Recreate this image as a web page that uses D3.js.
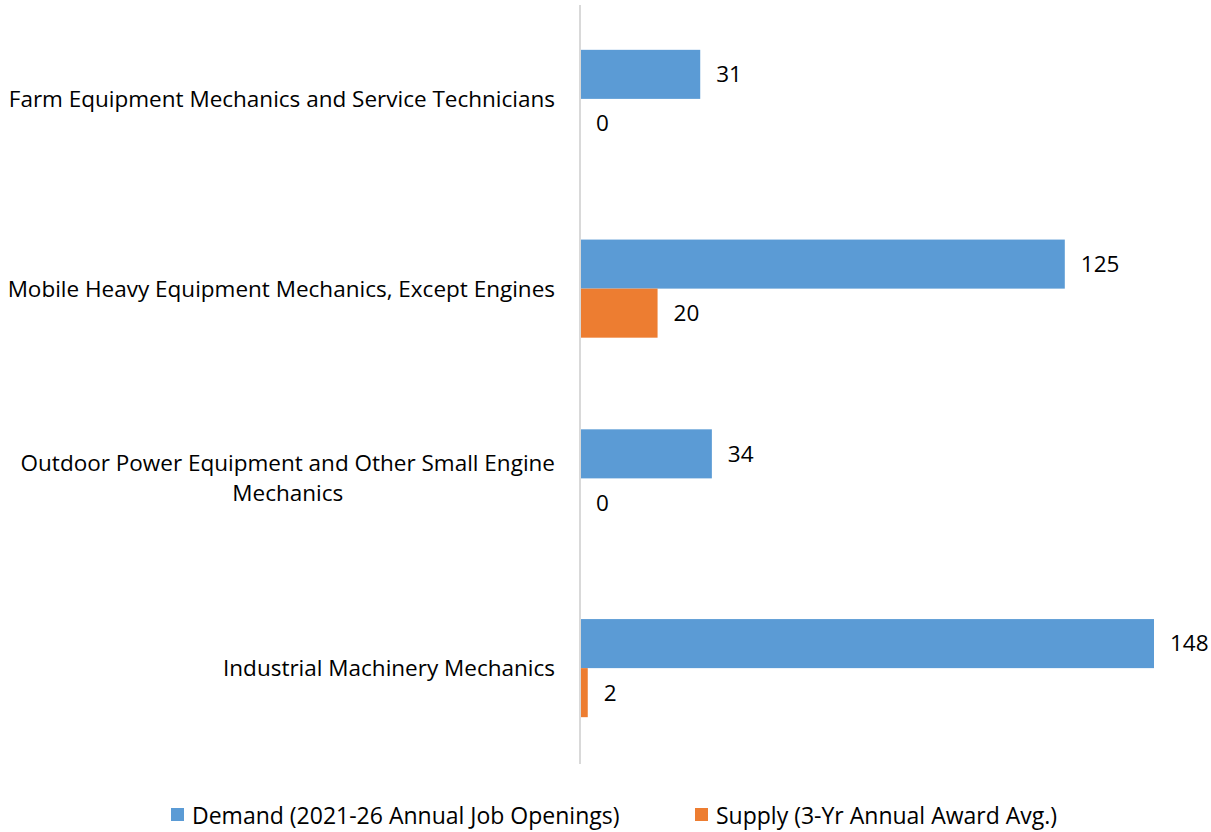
<!DOCTYPE html>
<html lang="en">
<head>
    <meta charset="UTF-8">
    <title>Demand vs Supply</title>
    <script src="https://d3js.org/d3.v7.min.js"></script>
    <style>
        body { margin: 0; background: #fff; }
        svg { display: block; font-family: "Open Sans", "Noto Sans", sans-serif; }
    </style>
</head>
<body>
<script>
    // data
    let categories = [
        'Farm Equipment Mechanics and Service Technicians',
        'Mobile Heavy Equipment Mechanics, Except Engines',
        'Outdoor Power Equipment and Other Small Engine|Mechanics',
        'Industrial Machinery Mechanics'
    ];
    let seriesNames = ['Demand (2021-26 Annual Job Openings)', 'Supply (3-Yr Annual Award Avg.)'];
    let demand = [31, 125, 34, 148];
    let supply = [0, 20, 0, 2];
    let colors = ['#5b9bd5', '#ed7d31'];

    let width = 1211, height = 832;
    let x0 = 580;
    let fs = 22.5;

    let svg = d3.select('body').append('svg')
        .attr('width', width)
        .attr('height', height);

    let rows = categories.map((c, i) => ({ cat: c, values: [demand[i], supply[i]] }));

    // scales
    let x = d3.scaleLinear().domain([0, 148]).range([x0, 1154]);
    let y = d3.scaleBand().domain(categories).range([4, 763])
        .paddingInner(0.483).paddingOuter(0.2415);
    let ySub = d3.scaleBand().domain([0, 1]).range([0, y.bandwidth()]);

    let g = svg.selectAll('g.cat')
        .data(rows)
        .enter()
        .append('g')
        .attr('class', 'cat')
        .attr('transform', d => `translate(0, ${y(d.cat)})`);

    g.selectAll('rect')
        .data(d => d.values)
        .enter()
        .append('rect')
        .attr('x', x(0))
        .attr('y', (d, i) => ySub(i))
        .attr('width', d => x(d) - x(0))
        .attr('height', ySub.bandwidth())
        .attr('fill', (d, i) => colors[i]);

    g.selectAll('text.val')
        .data(d => d.values)
        .enter()
        .append('text')
        .attr('class', 'val')
        .attr('x', d => x(d) + 16)
        .attr('y', (d, i) => ySub(i) + ySub.bandwidth() / 2)
        .attr('dy', '0.35em')
        .attr('font-size', fs)
        .attr('fill', '#000')
        .text(d => d);

    // vertical axis line
    svg.append('line')
        .attr('x1', x0).attr('x2', x0)
        .attr('y1', 5).attr('y2', 764)
        .attr('stroke', '#d9d9d9')
        .attr('stroke-width', 2);

    // category labels (wrapped label centred as a block)
    let labelRight = 555;
    rows.forEach(r => {
        let lines = r.cat.split('|');
        let cy = y(r.cat) + y.bandwidth() / 2;
        let t = svg.append('text')
            .attr('font-size', fs)
            .attr('fill', '#000');
        lines.forEach((ln, k) => {
            t.append('tspan')
                .attr('y', cy + (k - (lines.length - 1) / 2) * 30)
                .attr('dy', '0.35em')
                .text(ln);
        });
        if (lines.length === 1) {
            t.attr('text-anchor', 'end').selectAll('tspan').attr('x', labelRight);
        } else {
            let w = d3.max(t.selectAll('tspan').nodes(), n => n.getComputedTextLength());
            t.attr('text-anchor', 'middle').selectAll('tspan').attr('x', labelRight - w / 2);
        }
    });

    // legend
    let legendX = [171, 695];
    seriesNames.forEach((s, i) => {
        svg.append('rect')
            .attr('x', legendX[i]).attr('y', 808)
            .attr('width', 13).attr('height', 13)
            .attr('fill', colors[i]);
        svg.append('text')
            .attr('x', legendX[i] + 21).attr('y', 816)
            .attr('dy', '0.35em')
            .attr('font-size', 23)
            .attr('fill', '#000')
            .text(s);
    });
</script>
</body>
</html>
